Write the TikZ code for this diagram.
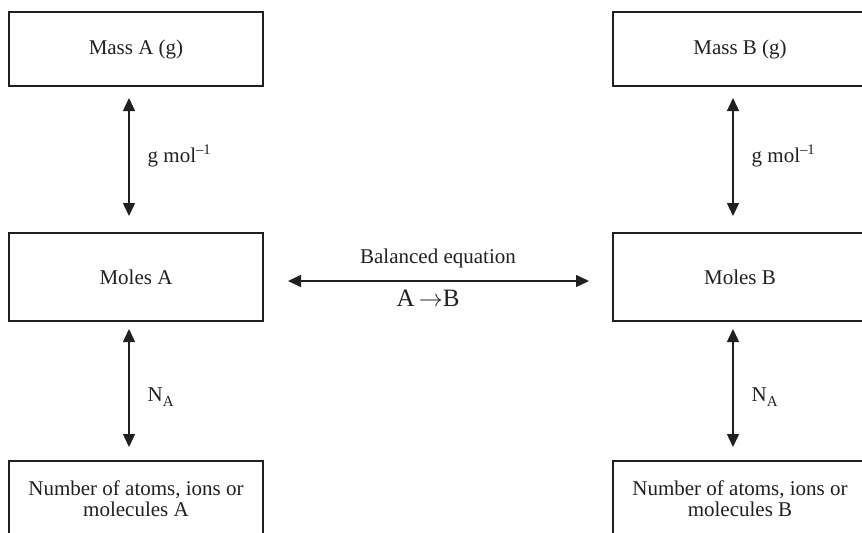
\documentclass[tikz,border=0pt]{standalone}
\usepackage{fontspec}
\setmainfont{Liberation Serif}
\usepackage{xcolor}
\usepackage{tikz}
\usetikzlibrary{arrows.meta, positioning}
\definecolor{inkdark}{RGB}{35,31,32}
\tikzset{
  qbox/.style={rectangle, draw=inkdark, line width=1pt, text=inkdark,
    minimum width=127pt, align=center, inner sep=2pt,
    font=\fontsize{10.5}{10.8}\selectfont},
  twoway/.style={{Triangle[width=6pt,length=6.5pt]}-{Triangle[width=6pt,length=6.5pt]},
    line width=0.7pt, color=inkdark},
  tag/.style={font=\fontsize{10.5}{12}\selectfont, text=inkdark, inner sep=0pt}
}
\begin{document}
\begin{tikzpicture}[x=0.5pt, y=-0.5pt]
  \useasboundingbox (0,0) rectangle (862,532);
  \clip (0,0) rectangle (862,532);
  \node[qbox, minimum height=37pt] (massA) at (136,49) {Mass A (g)};
  \node[qbox, minimum height=37pt] (massB) at (740,49) {Mass B (g)};
  \node[qbox, minimum height=44pt] (molesA) at (136,277) {Moles A};
  \node[qbox, minimum height=44pt] (molesB) at (740,277) {Moles B};
  \node[qbox, minimum height=37.5pt] (numA) at (136,498.5) {Number of atoms, ions or\\molecules A};
  \node[qbox, minimum height=37.5pt] (numB) at (740,498.5) {Number of atoms, ions or\\molecules B};

  \draw[twoway, shorten <=5.5pt, shorten >=8pt] ([xshift=-3.5pt]massA.south) -- ([xshift=-3.5pt]molesA.north)
    node[tag, midway, right=9pt, yshift=2pt] {g mol\textsuperscript{–1}};
  \draw[twoway, shorten <=3.5pt, shorten >=6.5pt] ([xshift=-3.5pt]molesA.south) -- ([xshift=-3.5pt]numA.north)
    node[tag, midway, right=9pt, yshift=-3pt] {N\raisebox{-2.5pt}{\fontsize{7.5}{8}\selectfont A}};
  \draw[twoway, shorten <=5.5pt, shorten >=8pt] ([xshift=-3.5pt]massB.south) -- ([xshift=-3.5pt]molesB.north)
    node[tag, midway, right=9pt, yshift=2pt] {g mol\textsuperscript{–1}};
  \draw[twoway, shorten <=3.5pt, shorten >=6.5pt] ([xshift=-3.5pt]molesB.south) -- ([xshift=-3.5pt]numB.north)
    node[tag, midway, right=9pt, yshift=-3pt] {N\raisebox{-2.5pt}{\fontsize{7.5}{8}\selectfont A}};

  \draw[twoway, shorten <=12pt, shorten >=11.5pt] ([yshift=-2pt]molesA.east) -- ([yshift=-2pt]molesB.west)
    node[tag, midway, above=6pt] {Balanced equation}
    node[tag, midway, below=4pt, xshift=-5pt, font=\fontsize{12.5}{14}\selectfont] {A\,$\rightarrow$B};
\end{tikzpicture}
\end{document}
